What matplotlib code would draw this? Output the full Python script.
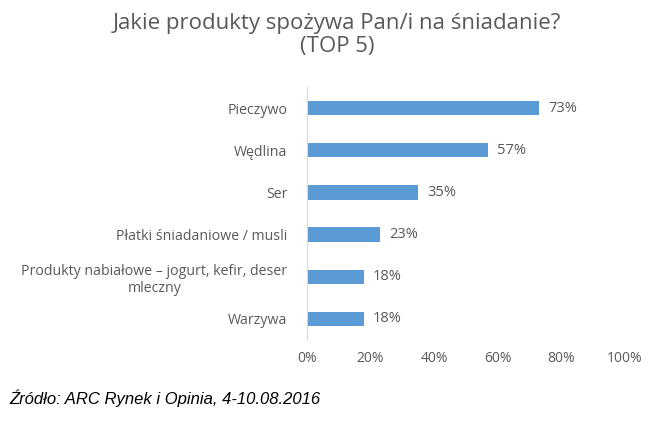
import matplotlib.pyplot as plt

# data
categories = ["Pieczywo", "Wędlina", "Ser", "Płatki śniadaniowe / musli",
              "Produkty nabiałowe – jogurt, kefir, deser\nmleczny", "Warzywa"]
values = [73, 57, 35, 23, 18, 18]
ticks = [0, 20, 40, 60, 80, 100]
tick_labels = ["0%", "20%", "40%", "60%", "80%", "100%"]

plt.rcParams['font.family'] = ['Open Sans', 'DejaVu Sans']
grey = '#595959'

fig = plt.figure(figsize=(6.55, 4.21), dpi=100)
ax = fig.add_axes([0.4687, 0.1924, 0.4855, 0.6009])

pos = list(range(len(categories)))
ax.barh(pos, values, height=0.34, color='#5B9BD5')
ax.set_ylim(len(categories) - 0.5, -0.5)
ax.set_xlim(0, 100)

for p, v in zip(pos, values):
    ax.text(v + 2.8, p, f"{v}%", va='center', ha='left', fontsize=10.5, color=grey)

ax.set_yticks(pos)
ax.set_yticklabels(categories, fontsize=10.2, color=grey, multialignment='center')
ax.set_xticks(ticks)
ax.set_xticklabels(tick_labels, fontsize=10, color=grey)
ax.tick_params(length=0)
ax.tick_params(axis='y', pad=14)
ax.tick_params(axis='x', pad=8)

for s in ['top', 'right', 'bottom']:
    ax.spines[s].set_visible(False)
ax.spines['left'].set_color('#D9D9D9')

fig.text(0.515, 0.917, "Jakie produkty spożywa Pan/i na śniadanie?\n(TOP 5)",
         ha='center', va='center', fontsize=16, color=grey, linespacing=1.15)
fig.text(0.015, 0.055, "Źródło: ARC Rynek i Opinia, 4-10.08.2016",
         ha='left', va='center', fontsize=12, style='italic',
         family='Liberation Sans', color='black')

fig.savefig('out.png', dpi=100)
